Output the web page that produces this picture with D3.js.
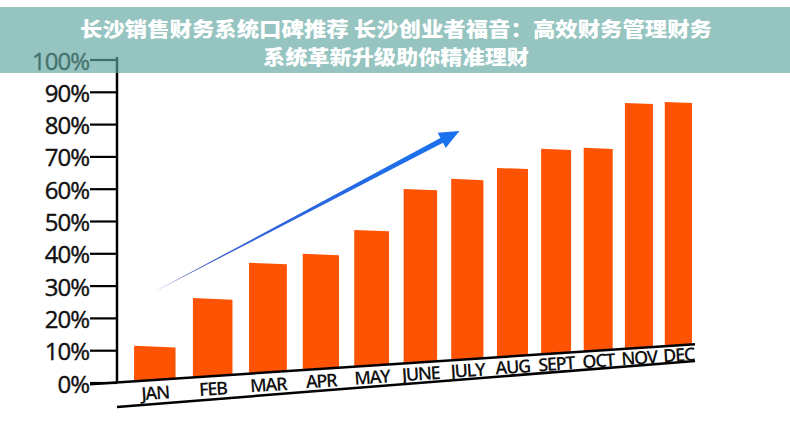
<!DOCTYPE html>
<html>
<head>
<meta charset="utf-8">
<script src="https://cdn.jsdelivr.net/npm/d3@7"></script>
<style>
  html, body { margin: 0; padding: 0; background: #fff; }
  svg { display: block; }
</style>
</head>
<body>
<svg id="chart" width="790" height="440"></svg>
<script>
// ---- data ----
const months = ["JAN","FEB","MAR","APR","MAY","JUNE","JULY","AUG","SEPT","OCT","NOV","DEC"];
const values = [11.5, 26.3, 37.2, 40.0, 47.4, 60.1, 63.2, 66.6, 72.5, 72.8, 86.7, 87.0];
const yTicks = [0, 10, 20, 30, 40, 50, 60, 70, 80, 90, 100];
const titleLines = ["长沙销售财务系统口碑推荐 长沙创业者福音：高效财务管理财务", "系统革新升级助你精准理财"];

// ---- layout ----
const svg = d3.select("#chart");
const axisX = 117;
const y = d3.scaleLinear().domain([0, 100]).range([383, 60]);
const tilt = 0.066;                       // slope of the photographed baseline
const baseY = x => 383.5 - tilt * (x - 100);
const lowY = x => 407 - 0.0796 * (x - 117);

// band scale in normalised space, then perspective warp to pixels
const band = d3.scaleBand().domain(months).range([0, 1]).paddingInner(0.3).paddingOuter(0.15);
const warp = d3.scaleLog().domain([1.7, 2.7]).range([125, 697.7]);
const px = u => warp(1.7 + u);
const xl = m => px(band(m));
const xr = m => px(band(m) + band.bandwidth());
const xc = m => px(band(m) + band.bandwidth() / 2);

const data = months.map((m, i) => ({ m, v: values[i] }));

// ---- bars ----
svg.append("g").selectAll("path.bar").data(data).join("path")
  .attr("class", "bar")
  .attr("fill", "#fd5302")
  .attr("d", d => {
    const a = xl(d.m), b = xr(d.m);
    const t = y(d.v);
    return `M${a},${t}L${b},${t + 0.04 * (b - a)}L${b},${baseY(b)}L${a},${baseY(a)}Z`;
  });

// ---- y axis ----
const gy = svg.append("g");
gy.append("line").attr("x1", axisX).attr("x2", axisX)
  .attr("y1", y(100) - 3).attr("y2", baseY(axisX))
  .attr("stroke", "#000").attr("stroke-width", 2.5);
gy.selectAll("line.tick").data(yTicks).join("line")
  .attr("class", "tick")
  .attr("x1", 90).attr("x2", axisX)
  .attr("y1", d => y(d)).attr("y2", d => y(d))
  .attr("stroke", "#000").attr("stroke-width", 2.2);
gy.selectAll("text").data(yTicks).join("text")
  .attr("x", 89).attr("y", d => y(d))
  .attr("text-anchor", "end").attr("dominant-baseline", "central")
  .attr("font-family", "Open Sans, sans-serif").attr("font-size", 24)
  .attr("letter-spacing", "-1px").attr("fill", "#111")
  .attr("stroke", "#111").attr("stroke-width", 0.4)
  .text(d => d + "%");

// ---- baseline and lower rule ----
svg.append("line").attr("x1", 90).attr("y1", baseY(90)).attr("x2", 695).attr("y2", baseY(695))
  .attr("stroke", "#000").attr("stroke-width", 2.5);
svg.append("line").attr("x1", 117).attr("y1", lowY(117)).attr("x2", 695).attr("y2", lowY(695))
  .attr("stroke", "#000").attr("stroke-width", 2.5);

// ---- month labels ----
const ang = Math.atan(-tilt) * 180 / Math.PI;
svg.append("g").selectAll("text").data(data).join("text")
  .attr("transform", d => {
    const cx = xc(d.m);
    return `translate(${cx},${(baseY(cx) + lowY(cx)) / 2 + 0.5}) rotate(${ang})`;
  })
  .attr("text-anchor", "middle").attr("dominant-baseline", "central")
  .attr("font-family", "Open Sans, sans-serif").attr("font-size", 18)
  .attr("font-weight", 600).attr("letter-spacing", "-1.3px").attr("fill", "#111")
  .text(d => d.m);

// ---- trend arrow ----
const defs = svg.append("defs");
const grad = defs.append("linearGradient").attr("id", "arrowGrad")
  .attr("gradientUnits", "userSpaceOnUse");
const ax0 = xc("JAN") - 2, ay0 = y(28), ax1 = xc("JULY") - 8, ay1 = y(78);
grad.attr("x1", ax0).attr("y1", ay0).attr("x2", ax1).attr("y2", ay1);
grad.append("stop").attr("offset", "0").attr("stop-color", "#6a5fb5");
grad.append("stop").attr("offset", "0.3").attr("stop-color", "#2f62d8");
grad.append("stop").attr("offset", "1").attr("stop-color", "#1a72f0");
{
  const dx = ax1 - ax0, dy = ay1 - ay0, L = Math.hypot(dx, dy);
  const ux = dx / L, uy = dy / L, nx = -uy, ny = ux;
  const headL = 20, headW = 8.5, shaftW = 2.8;
  const bx = ax1 - ux * headL, by = ay1 - uy * headL;
  const p = [
    [ax0, ay0],
    [bx + nx * shaftW, by + ny * shaftW],
    [bx + nx * headW, by + ny * headW],
    [ax1, ay1],
    [bx - nx * headW, by - ny * headW],
    [bx - nx * shaftW, by - ny * shaftW]
  ];
  svg.append("path").attr("d", "M" + p.map(q => q.join(",")).join("L") + "Z")
    .attr("fill", "url(#arrowGrad)");
}

// ---- title banner ----
svg.append("rect").attr("x", 0).attr("y", 7).attr("width", 790).attr("height", 66)
  .attr("fill", "rgb(95,165,160)").attr("fill-opacity", 0.66);
const tw = [632, 266];
svg.append("g").selectAll("text").data(titleLines).join("text")
  .attr("x", 396).attr("y", (d, i) => 28 + i * 28)
  .attr("text-anchor", "middle").attr("dominant-baseline", "central")
  .attr("font-family", "Noto Sans CJK SC, sans-serif").attr("font-size", 20)
  .attr("font-weight", 900).attr("fill", "#fff")
  .attr("textLength", (d, i) => tw[i]).attr("lengthAdjust", "spacingAndGlyphs")
  .text(d => d);
</script>
</body>
</html>
